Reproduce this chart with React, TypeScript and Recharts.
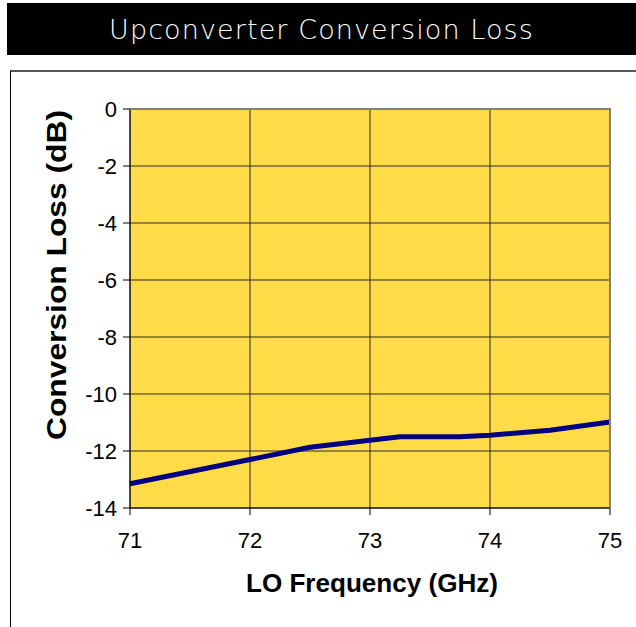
import { LineChart, Line, XAxis, YAxis, CartesianGrid, Label } from 'recharts';

const frequencies = [71, 72, 72.5, 73, 73.25, 73.75, 74, 74.5, 75];
const conversionLoss = [-13.15, -12.3, -11.87, -11.62, -11.5, -11.5, -11.45, -11.27, -10.98];
const xTicks = [71, 72, 73, 74, 75];
const yTicks = [0, -2, -4, -6, -8, -10, -12, -14];

const chartData = frequencies.map((f, i) => ({ freq: f, loss: conversionLoss[i] }));

const arial = '"Liberation Sans", Arial, sans-serif';
const labelStyle = { fontFamily: arial, fontWeight: 700, fill: '#000' };

function XTick({ x, y, payload }: any) {
  return (
    <text x={x} y={y + 31} textAnchor="middle" style={{ fontFamily: arial, fontSize: 22, fill: '#000' }}>
      {payload.value}
    </text>
  );
}

function YTick({ y, payload }: any) {
  return (
    <text x={117} y={y + 8} textAnchor="end" style={{ fontFamily: arial, fontSize: 22, fill: '#000' }}>
      {payload.value}
    </text>
  );
}

export default function App() {
  return (
    <div style={{ position: 'fixed', left: 0, top: 0, width: 636, height: 627, background: '#fff', overflow: 'hidden' }}>
      <div
        style={{
          position: 'absolute',
          left: 7,
          top: 3,
          width: 629,
          height: 52,
          background: '#000',
          color: '#fff',
          fontFamily: '"DejaVu Sans", "Noto Sans", sans-serif',
          fontWeight: 200,
          fontSize: 27,
          letterSpacing: 1.1,
          lineHeight: '54px',
          textAlign: 'center',
        }}
      >
        Upconverter Conversion Loss
      </div>
      <div
        style={{
          position: 'absolute',
          left: 10,
          top: 70,
          width: 640,
          height: 570,
          borderLeft: '1.5px solid #000',
          borderTop: '2px solid #555',
        }}
      />
      <div style={{ position: 'absolute', left: 0, top: 0 }}>
        <LineChart width={636} height={627} data={chartData} margin={{ top: 109, right: 26, bottom: 89, left: 70 }}>
          <CartesianGrid stroke="#2a2a2a" strokeWidth={1} fill="#FFDB48" fillOpacity={1} />
          <XAxis
            dataKey="freq"
            type="number"
            domain={[71, 75]}
            ticks={xTicks}
            height={30}
            stroke="#000"
            tickSize={7}
            tick={<XTick />}
          >
            <Label
              value="LO Frequency (GHz)"
              content={() => (
                <text x={372} y={592} textAnchor="middle" fontSize={26} textLength={252} lengthAdjust="spacingAndGlyphs" style={labelStyle}>
                  LO Frequency (GHz)
                </text>
              )}
            />
          </XAxis>
          <YAxis
            type="number"
            domain={[-14, 0]}
            ticks={yTicks}
            width={60}
            stroke="#000"
            tickSize={7}
            tick={<YTick />}
          >
            <Label
              value="Conversion Loss (dB)"
              content={() => (
                <text
                  x={0}
                  y={0}
                  transform="translate(66 275) rotate(-90)"
                  textAnchor="middle"
                  fontSize={27}
                  textLength={330}
                  lengthAdjust="spacingAndGlyphs"
                  style={labelStyle}
                >
                  Conversion Loss (dB)
                </text>
              )}
            />
          </YAxis>
          <Line
            type="linear"
            dataKey="loss"
            stroke="#000080"
            strokeWidth={5}
            dot={false}
            isAnimationActive={false}
          />
        </LineChart>
      </div>
      <svg style={{ position: 'absolute', left: 0, top: 0, pointerEvents: 'none' }} width={636} height={627}>
        <polyline points="130,109 610,109 610,508" fill="none" stroke="#808080" strokeWidth={2} />
      </svg>
    </div>
  );
}
